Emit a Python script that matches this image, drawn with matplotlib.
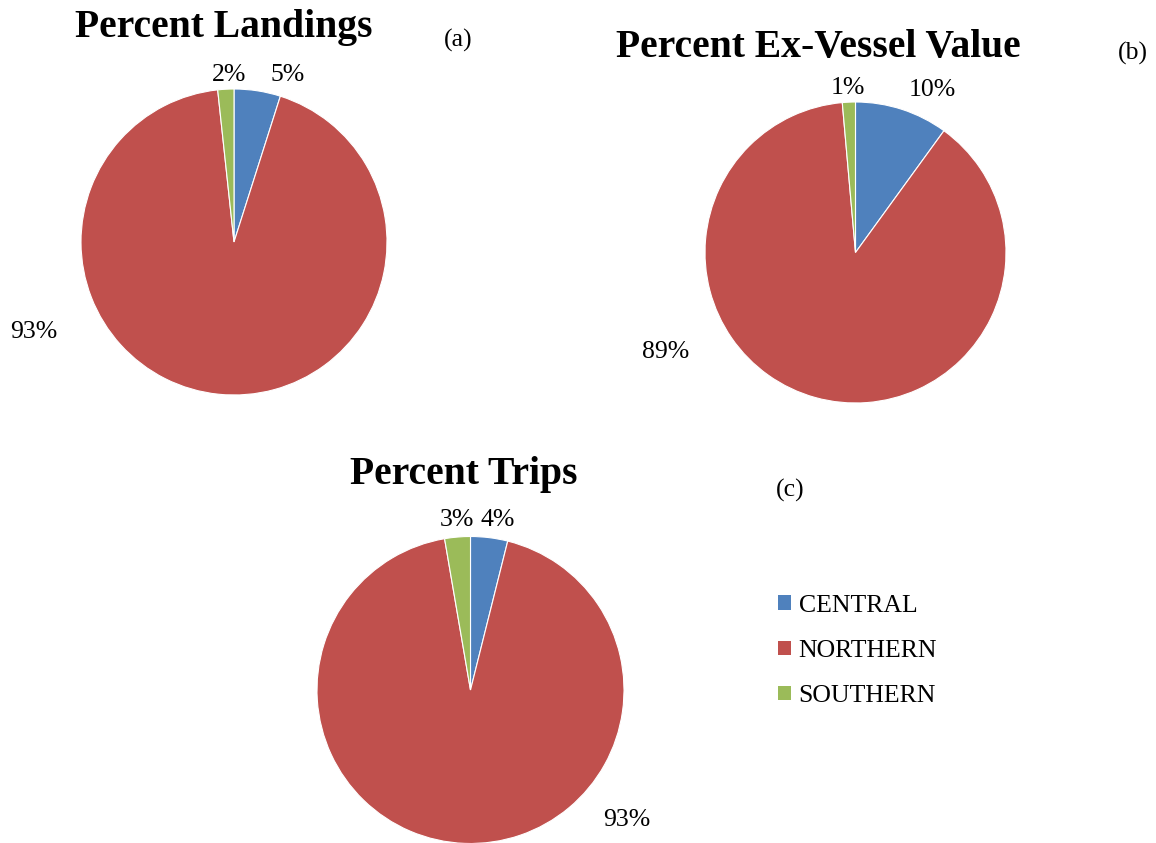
import numpy as np
import matplotlib
matplotlib.use('Agg')
import matplotlib.pyplot as plt
from matplotlib.patches import Patch

plt.rcParams['font.family'] = ['Liberation Serif', 'DejaVu Serif']

# data
regions = ['CENTRAL', 'NORTHERN', 'SOUTHERN']
colors = ['#4F81BD', '#C0504D', '#9BBB59']
landings = [4.9, 93.4, 1.7]
exvessel = [10.0, 88.6, 1.4]
trips = [3.9, 93.4, 2.7]
titles = ['Percent Landings', 'Percent Ex-Vessel Value', 'Percent Trips']
panel_tags = ['(a)', '(b)', '(c)']

W, H = 1156, 843
fig = plt.figure(figsize=(W/100, H/100), dpi=100)
FS = 18.5

def add_pie(values, cx, cy, r, half, lab_pos):
    # axes square of 2*half px centred at (cx, cy) (pixels, from top-left)
    ax = fig.add_axes([(cx-half)/W, 1-(cy+half)/H, 2*half/W, 2*half/H])
    ax.pie(values, colors=colors, startangle=90, counterclock=False,
           wedgeprops=dict(edgecolor='white', linewidth=0.8))
    lim = half/r
    ax.set_xlim(-lim, lim)
    ax.set_ylim(-lim, lim)
    ax.set_aspect('equal')
    ax.axis('off')
    for v, (x, y) in zip(values, lab_pos):
        ax.text(x, y, '%.0f%%' % v, ha='center', va='center', fontsize=FS)
    return ax

# label positions in pie-radius units, relative to the centre
add_pie(landings, 234, 242, 153, 240,
        [(0.35, 1.09), (-1.31, -0.59), (-0.03, 1.09)])
add_pie(exvessel, 855.5, 252.5, 150.5, 240,
        [(0.51, 1.08), (-1.26, -0.66), (-0.05, 1.09)])
add_pie(trips, 470.5, 690, 153.5, 240,
        [(0.18, 1.11), (1.02, -0.85), (-0.09, 1.11)])

# titles and panel tags
fig.text(224/W, 1-27/H, titles[0], ha='center', va='center', fontsize=28.5, fontweight='bold')
fig.text(818/W, 1-47/H, titles[1], ha='center', va='center', fontsize=28.5, fontweight='bold')
fig.text(464/W, 1-475/H, titles[2], ha='center', va='center', fontsize=28.5, fontweight='bold')
fig.text(458/W, 1-40/H, panel_tags[0], ha='center', va='center', fontsize=FS)
fig.text(1133/W, 1-53/H, panel_tags[1], ha='center', va='center', fontsize=FS)
fig.text(790/W, 1-490/H, panel_tags[2], ha='center', va='center', fontsize=FS)

handles = [Patch(facecolor=c, edgecolor='none') for c in colors]
fig.legend(handles, regions, loc='center left', bbox_to_anchor=(755/W, 1-651/H),
           frameon=False, fontsize=FS, handlelength=0.5, handleheight=0.5,
           handletextpad=0.3, labelspacing=0.9)

fig.savefig('out.png', dpi=100)
